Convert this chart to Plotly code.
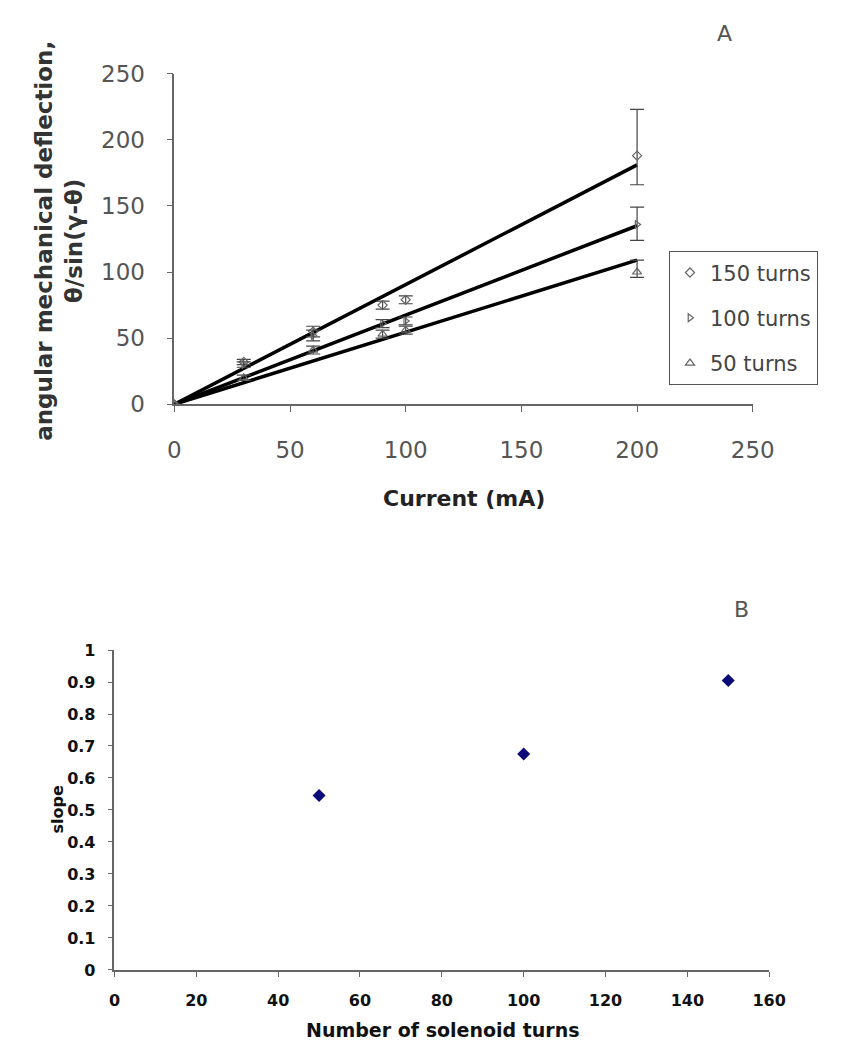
import plotly.graph_objects as go

# ---- Panel A data ----
current = [0, 30, 60, 90, 100, 200]
y150 = [0, 32, 55, 75, 79, 188]
y100 = [0, 30, 52, 61, 63, 136]
y50 = [0, 20, 41, 53, 56, 100]
err150_up = [0, 2, 4, 3, 3, 35]
err150_dn = [0, 2, 4, 3, 3, 22]
err100_up = [0, 2, 4, 3, 3, 13]
err100_dn = [0, 2, 4, 3, 3, 12]
err50_up = [0, 2, 3, 3, 3, 9]
err50_dn = [0, 2, 3, 3, 3, 4]
fit_x = [0, 200]

# ---- Panel B data ----
turns = [50, 100, 150]
slopes = [0.545, 0.675, 0.905]

labels = ["150 turns", "100 turns", "50 turns"]

fig = go.Figure()

GRAY = "#666666"
series = [
    (labels[0], y150, err150_up, err150_dn, "diamond-open", slopes[2], 7),
    (labels[1], y100, err100_up, err100_dn, "triangle-right-open", slopes[1], 7),
    (labels[2], y50, err50_up, err50_dn, "triangle-up-open", slopes[0], 8),
]

for name, ys, eu, ed, sym, s, size in series:
    fig.add_trace(go.Scatter(
        x=fit_x, y=[s * v for v in fit_x], mode="lines",
        line=dict(color="black", width=3.5), showlegend=False,
        hoverinfo="skip", xaxis="x", yaxis="y"))

for i, (name, ys, eu, ed, sym, s, size) in enumerate(series):
    fig.add_trace(go.Scatter(
        x=current, y=ys, mode="markers", name=name,
        legendgroup=f"g{i}",
        marker=dict(symbol=sym, size=size, color=GRAY,
                    line=dict(color=GRAY, width=1.2)),
        error_y=dict(type="data", symmetric=False, array=eu, arrayminus=ed,
                     color="#444444", thickness=1.2, width=7),
        xaxis="x", yaxis="y"))

fig.add_trace(go.Scatter(
    x=turns, y=slopes, mode="markers", showlegend=False,
    marker=dict(symbol="diamond", size=10, color="#0a0a78"),
    xaxis="x2", yaxis="y2"))

FAM = "DejaVu Sans, Liberation Sans, Arial, sans-serif"
top_font = dict(family=FAM, size=23, color="#555555")
bot_font = dict(family=FAM, size=16, color="#111111", weight="bold")

fig.update_layout(
    width=845, height=1050,
    margin=dict(l=0, r=0, t=0, b=0),
    paper_bgcolor="white", plot_bgcolor="white",
    showlegend=True,
    legend=dict(x=677 / 845, y=1 - 236 / 1050, xanchor="left", yanchor="top",
                bordercolor="#555555", borderwidth=1.2, bgcolor="white",
                font=dict(family=FAM, size=21, color="#444444"),
                tracegroupgap=15, itemwidth=30),
    xaxis=dict(domain=[165 / 845, 764 / 845], range=[0, 250], dtick=50,
               showline=True, linecolor="#666666", linewidth=1.5,
               ticks="outside", ticklen=6, tickcolor="#666666",
               showgrid=False, zeroline=False, tickfont=top_font,
               ticklabelstandoff=18, anchor="y"),
    yaxis=dict(domain=[1 - 393 / 1050, 1 - 54 / 1050], range=[0, 250], dtick=50,
               showline=True, linecolor="#666666", linewidth=1.5,
               ticks="outside", ticklen=6, tickcolor="#666666",
               showgrid=False, zeroline=False, tickfont=top_font,
               ticklabelstandoff=17, anchor="x"),
    xaxis2=dict(domain=[103 / 845, 781 / 845], range=[0, 160], dtick=20,
                showline=True, linecolor="#666666", linewidth=1.5,
                ticks="outside", ticklen=5, tickcolor="#666666",
                showgrid=False, zeroline=False, tickfont=bot_font,
                ticklabelstandoff=10, anchor="y2"),
    yaxis2=dict(domain=[1 - 973 / 1050, 1 - 645 / 1050], range=[0, 1], dtick=0.1,
                showline=True, linecolor="#666666", linewidth=1.5,
                ticks="outside", ticklen=5, tickcolor="#666666",
                showgrid=False, zeroline=False, tickfont=bot_font,
                ticklabelstandoff=9, anchor="x2"),
)


def note(text, x, y, size, color, bold=False, angle=0):
    f = dict(family=FAM, size=size, color=color)
    if bold:
        f["weight"] = "bold"
    return dict(text=text, x=x / 845, y=1 - y / 1050, xref="paper", yref="paper",
                xanchor="center", yanchor="middle", showarrow=False,
                textangle=angle, font=f)


ann = [
    note("Current (mA)", 465, 490, 22, "#222222", bold=True),
    note("angular mechanical deflection,<br>θ/sin(γ-θ)", 46, 225, 23, "#333333",
         bold=True, angle=-90),
    note("A", 735, 13, 22, "#555555"),
    note("B", 752, 603, 22, "#555555"),
    note("Number of solenoid turns", 443, 1035, 19, "#111111", bold=True),
    note("slope", 45, 808, 16, "#111111", bold=True, angle=-90),
]
fig.update_layout(annotations=ann)

fig.write_html("out.html")
